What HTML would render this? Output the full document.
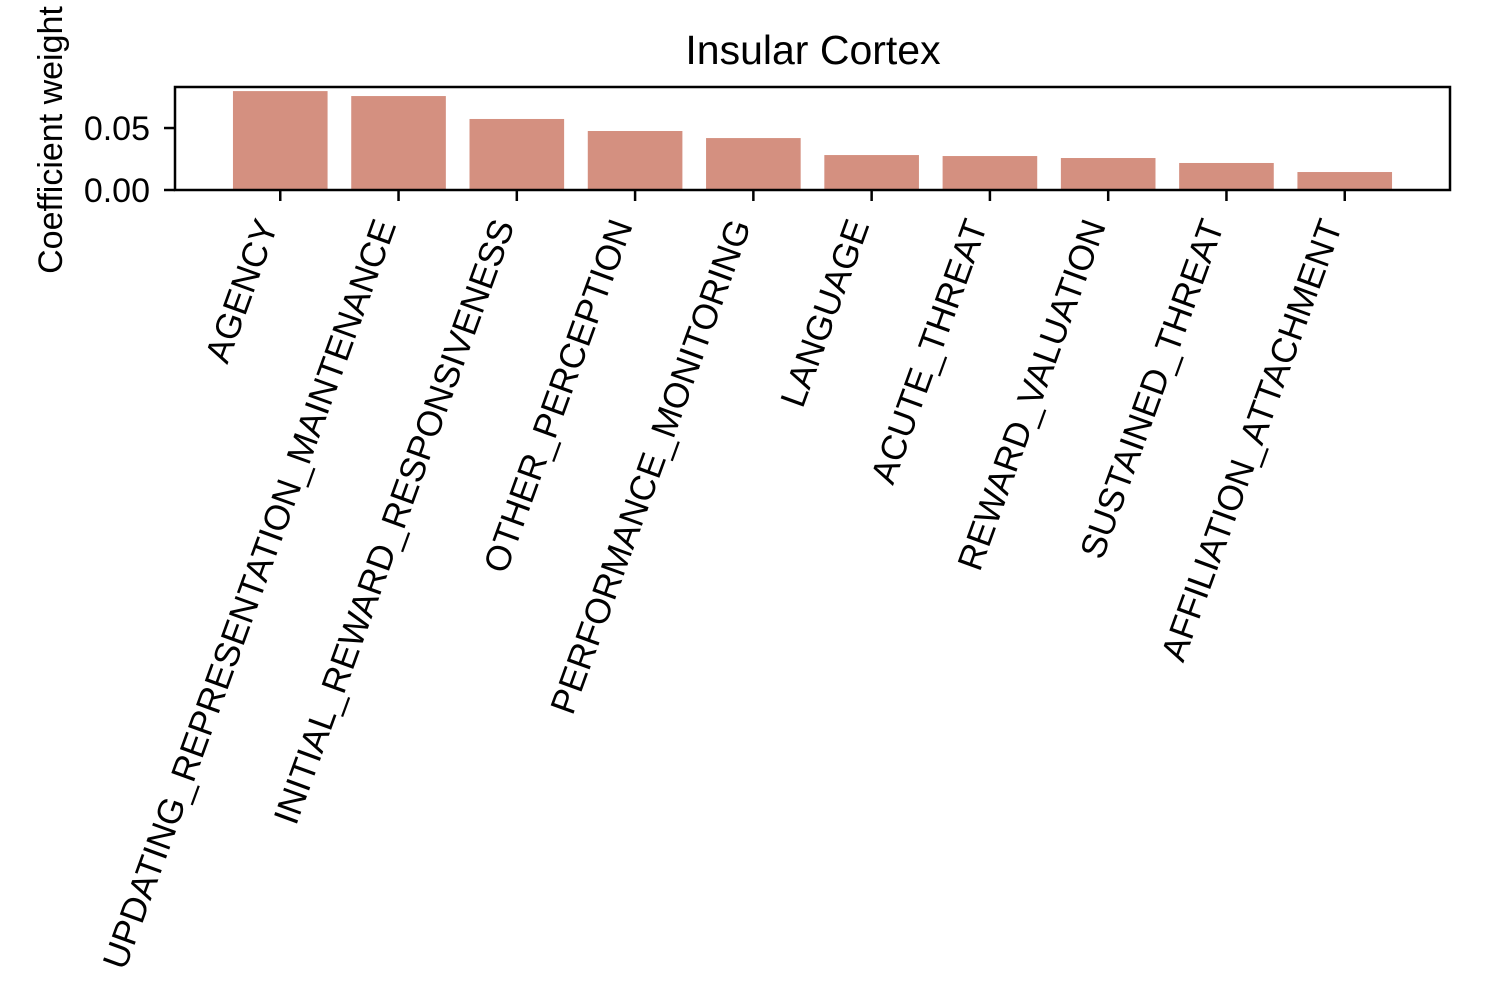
<!DOCTYPE html>
<html><head><meta charset="utf-8"><style>
html,body{margin:0;padding:0;background:#fff;}
svg{display:block;font-family:"Liberation Sans",Arial,sans-serif;}
</style></head><body>
<svg id="chart" width="1500" height="1000" viewBox="0 0 1500 1000" xmlns="http://www.w3.org/2000/svg">
<rect width="1500" height="1000" fill="#fff"/>
<text x="813" y="64" font-size="41" text-anchor="middle">Insular Cortex</text>
<text transform="translate(62,140) rotate(-90)" font-size="34" text-anchor="middle">Coefficient weight</text>
<g id="bars"></g>
<g id="yticks"></g>
<g id="xticks"></g>
<rect x="175" y="87" width="1275" height="103" fill="none" stroke="#000" stroke-width="2.5"/>
</svg>
<script>
const categories = ["AGENCY","UPDATING_REPRESENTATION_MAINTENANCE","INITIAL_REWARD_RESPONSIVENESS","OTHER_PERCEPTION","PERFORMANCE_MONITORING","LANGUAGE","ACUTE_THREAT","REWARD_VALUATION","SUSTAINED_THREAT","AFFILIATION_ATTACHMENT"];
const values = [0.0798,0.0758,0.0573,0.0476,0.0419,0.0282,0.0274,0.0258,0.0218,0.0145];
const yTickValues = [0, 0.05];
const yTickLabels = ["0.00","0.05"];

const NS = "http://www.w3.org/2000/svg";
const L = 175, R = 1450, T = 87, B = 190;
const yMin = 0, yMax = 0.0831;
const xMin = -0.89, xMax = categories.length - 1 + 0.89;
function xs(i){ return L + (i - xMin) / (xMax - xMin) * (R - L); }
function ys(v){ return B - (v - yMin) / (yMax - yMin) * (B - T); }
const bw = 0.8 * (xs(1) - xs(0));

const gb = document.getElementById('bars');
const gx = document.getElementById('xticks');
const gy = document.getElementById('yticks');
categories.forEach((c, i) => {
  const r = document.createElementNS(NS, 'rect');
  r.setAttribute('x', xs(i) - bw / 2);
  r.setAttribute('y', ys(values[i]));
  r.setAttribute('width', bw);
  r.setAttribute('height', ys(0) - ys(values[i]));
  r.setAttribute('fill', '#d49080');
  
  
  gb.appendChild(r);

  const t = document.createElementNS(NS, 'line');
  t.setAttribute('x1', xs(i)); t.setAttribute('x2', xs(i));
  t.setAttribute('y1', B); t.setAttribute('y2', B + 11);
  t.setAttribute('stroke', '#000'); t.setAttribute('stroke-width', '2.5');
  
  
  gx.appendChild(t);

  const tx = document.createElementNS(NS, 'text');
  tx.setAttribute('transform', 'translate(' + (xs(i) - 2) + ',' + (B + 35) + ') rotate(-70)');
  tx.setAttribute('font-size', '35.3');
  tx.setAttribute('text-anchor', 'end');
  tx.textContent = c;
  
  
  gx.appendChild(tx);
});
yTickValues.forEach((v, i) => {
  const t = document.createElementNS(NS, 'line');
  t.setAttribute('x1', L - 11); t.setAttribute('x2', L);
  t.setAttribute('y1', ys(v)); t.setAttribute('y2', ys(v));
  t.setAttribute('stroke', '#000'); t.setAttribute('stroke-width', '2.5');
  
  
  gy.appendChild(t);
  const tx = document.createElementNS(NS, 'text');
  tx.setAttribute('x', L - 25);
  tx.setAttribute('y', ys(v) + 12);
  tx.setAttribute('font-size', '34');
  tx.setAttribute('text-anchor', 'end');
  tx.textContent = yTickLabels[i];
  
  
  gy.appendChild(tx);
});
</script>
</body></html>
